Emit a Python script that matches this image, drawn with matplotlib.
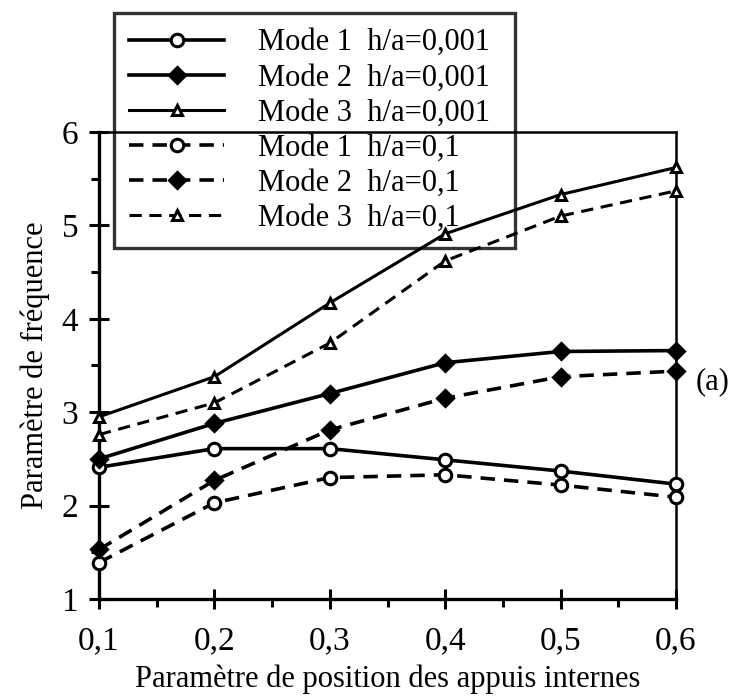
import numpy as np
import matplotlib
matplotlib.use('Agg')
import matplotlib.pyplot as plt
from matplotlib.ticker import MultipleLocator

plt.rcParams['font.family'] = ['Liberation Serif', 'DejaVu Serif']

# position des appuis internes
x = [0.1, 0.2, 0.3, 0.4, 0.5, 0.6]

# h/a = 0,001
mode1_fin = [2.41, 2.61, 2.61, 2.49, 2.37, 2.23]
mode2_fin = [2.50, 2.88, 3.20, 3.53, 3.65, 3.66]
mode3_fin = [2.95, 3.38, 4.17, 4.91, 5.33, 5.62]

# h/a = 0,1
mode1_epais = [1.39, 2.03, 2.30, 2.33, 2.22, 2.09]
mode2_epais = [1.53, 2.27, 2.81, 3.15, 3.38, 3.44]
mode3_epais = [2.76, 3.10, 3.74, 4.62, 5.10, 5.37]

xtick_labels = ['0,1', '0,2', '0,3', '0,4', '0,5', '0,6']
ytick_labels = ['1', '2', '3', '4', '5', '6']

fig = plt.figure(figsize=(7.37, 6.99), dpi=100)
ax = fig.add_axes([99/737, 1-599/699, (676-99)/737, (599-132)/699])

dash = (0, (4, 2.5))
series = [
    (mode1_fin, '-', 'o', 'white', 2.6, 'Mode 1  h/a=0,001'),
    (mode2_fin, '-', 'D', 'black', 2.6, 'Mode 2  h/a=0,001'),
    (mode3_fin, '-', '^', 'white', 2.2, 'Mode 3  h/a=0,001'),
    (mode1_epais, dash, 'o', 'white', 2.6, 'Mode 1  h/a=0,1'),
    (mode2_epais, dash, 'D', 'black', 2.6, 'Mode 2  h/a=0,1'),
    (mode3_epais, dash, '^', 'white', 2.2, 'Mode 3  h/a=0,1'),
]
for ys, ls, mk, fc, lw, lab in series:
    ms = 8 if mk == 'D' else (7.5 if mk == '^' else 9)
    ax.plot(x, ys, color='black', linestyle=ls, linewidth=lw, marker=mk,
            markersize=ms, markerfacecolor=fc, markeredgecolor='black',
            markeredgewidth=2.2, label=lab, clip_on=False, zorder=3)

ax.set_xlim(0.1, 0.6)
ax.set_ylim(1, 6)
ax.set_xticks(x)
ax.set_xticklabels(xtick_labels, fontsize=24)
ax.set_yticks([1, 2, 3, 4, 5, 6])
ax.set_yticklabels(ytick_labels, fontsize=24)
ax.xaxis.set_minor_locator(MultipleLocator(0.05))
ax.yaxis.set_minor_locator(MultipleLocator(0.5))
ax.tick_params(which='major', direction='inout', length=14, width=2.2, pad=8)
ax.tick_params(which='minor', direction='out', length=6, width=2.2)
ax.tick_params(axis='x', pad=12)

ax.spines['left'].set_linewidth(2.4)
ax.spines['bottom'].set_linewidth(2.4)
ax.spines['top'].set_linewidth(1.8)
ax.spines['right'].set_linewidth(1.8)

ax.set_xlabel('Paramètre de position des appuis internes', fontsize=22, labelpad=6)
ax.set_ylabel('Paramètre de fréquence', fontsize=22, labelpad=8)

leg = fig.legend(loc='upper left',
                 bbox_to_anchor=(114/737, 1-13/699, (515-114)/737, 0.0),
                 mode='expand', fontsize=22, frameon=True, fancybox=False,
                 handlelength=3.1, handletextpad=1.1, labelspacing=0.2,
                 borderpad=0.5, borderaxespad=0)
leg.get_frame().set_edgecolor('black')
leg.get_frame().set_facecolor('none')
leg.get_frame().set_linewidth(2.4)

fig.text(713/737, 1-382/699, '(a)', fontsize=22, ha='center', va='center')

fig.savefig('out.png', dpi=100)
